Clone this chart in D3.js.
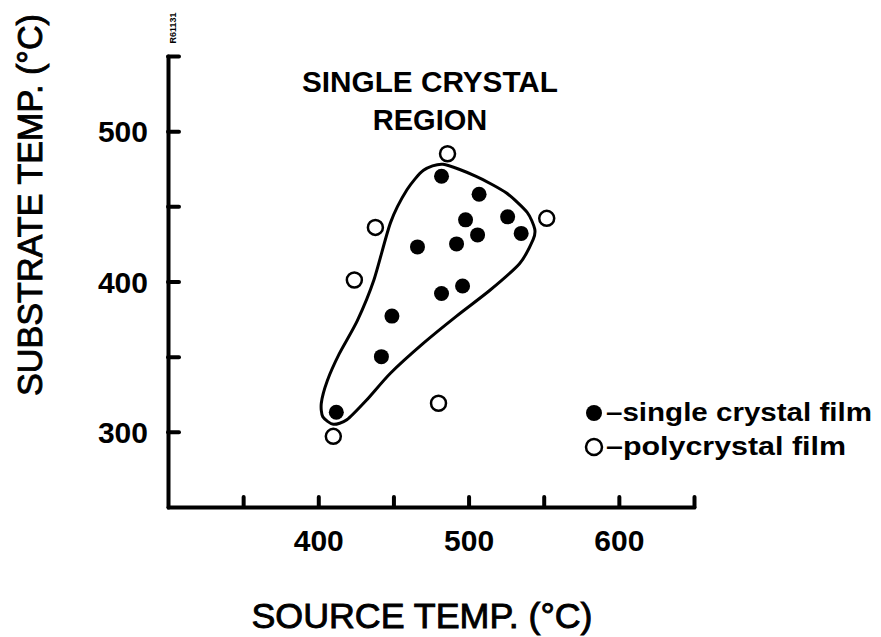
<!DOCTYPE html>
<html>
<head>
<meta charset="utf-8">
<script src="https://cdn.jsdelivr.net/npm/d3@7"></script>
<style>
  body { margin: 0; background: #fff; }
  svg text { font-family: "Liberation Sans", Arial, sans-serif; fill: #000; }
</style>
</head>
<body>
<svg id="chart" width="881" height="637"></svg>
<script>
// source temp, substrate temp (°C)
const single_x = [482, 507, 498, 526, 506, 535, 466, 492, 496, 482, 449, 442, 412];
const single_y = [470, 458, 441, 443, 431, 432, 423, 425, 397, 392, 377, 350, 313];

const poly_x = [486, 438, 552, 424, 480, 410];
const poly_y = [485, 436, 442, 401, 319, 297];

// outline of the single crystal region
const region_x = [483, 505, 525, 539, 544, 543, 534, 514, 492, 470, 448, 432, 419, 410, 403, 402, 406, 414, 426, 437, 448, 459, 470];
const region_y = [478, 470, 459, 446, 435, 428, 412, 394, 377, 359, 339, 321, 308, 305, 310, 319, 334, 352, 374, 401, 439, 461, 474];

const x_ticks = [350, 400, 450, 500, 550, 600, 650];
const y_ticks = [300, 350, 400, 450, 500, 550];
const tick_labels = [300, 400, 500, 600];

const legend_labels = ["\u2013single crystal film", "\u2013polycrystal film"];

const $svg = d3.select("#chart");

const x = d3.scaleLinear().domain([300, 650]).range([168, 694]);
const y = d3.scaleLinear().domain([250, 550]).range([507, 56]);

const fmt = d => tick_labels.includes(d) ? d : "";

// axes
const gx = $svg.append("g")
    .attr("transform", "translate(0," + y(250) + ")")
    .call(d3.axisBottom(x).tickValues(x_ticks).tickSizeInner(-10).tickSizeOuter(0).tickPadding(23).tickFormat(fmt));

const gy = $svg.append("g")
    .attr("transform", "translate(" + x(300) + ",0)")
    .call(d3.axisLeft(y).tickValues(y_ticks).tickSizeInner(-11).tickSizeOuter(0).tickPadding(20).tickFormat(fmt));

[gx, gy].forEach(g => {
    g.select(".domain").attr("stroke", "#000").attr("stroke-width", 4).attr("stroke-linecap", "round");
    g.selectAll(".tick line").attr("stroke", "#000").attr("stroke-width", 4).attr("stroke-linecap", "round");
    g.selectAll(".tick text")
        .attr("font-size", 30)
        .attr("font-weight", "bold")
        .attr("font-family", "Liberation Sans, Arial, sans-serif");
});
gy.selectAll(".tick text").attr("dy", "0.36em");

// region outline
const region = region_x.map((v, i) => [v, region_y[i]]);
const line = d3.line()
    .x(d => x(d[0]))
    .y(d => y(d[1]))
    .curve(d3.curveCardinalClosed.tension(0.3));

$svg.append("path")
    .datum(region)
    .attr("d", line)
    .attr("fill", "none")
    .attr("stroke", "#000")
    .attr("stroke-width", 3);

// points
$svg.append("g").selectAll("circle")
    .data(single_x.map((v, i) => [v, single_y[i]]))
    .join("circle")
    .attr("cx", d => x(d[0]))
    .attr("cy", d => y(d[1]))
    .attr("r", 7.5)
    .attr("fill", "#000");

$svg.append("g").selectAll("circle")
    .data(poly_x.map((v, i) => [v, poly_y[i]]))
    .join("circle")
    .attr("cx", d => x(d[0]))
    .attr("cy", d => y(d[1]))
    .attr("r", 7.5)
    .attr("fill", "#fff")
    .attr("stroke", "#000")
    .attr("stroke-width", 2.5);

// titles
$svg.append("text")
    .attr("x", 430).attr("y", 92)
    .attr("text-anchor", "middle")
    .attr("font-size", 29).attr("font-weight", "bold")
    .attr("textLength", 256).attr("lengthAdjust", "spacingAndGlyphs")
    .text("SINGLE CRYSTAL");

$svg.append("text")
    .attr("x", 430).attr("y", 130)
    .attr("text-anchor", "middle")
    .attr("font-size", 29).attr("font-weight", "bold")
    .text("REGION");

$svg.append("text")
    .attr("x", 422).attr("y", 628)
    .attr("text-anchor", "middle")
    .attr("font-size", 35)
    .attr("stroke", "#000").attr("stroke-width", 0.9)
    .attr("textLength", 341).attr("lengthAdjust", "spacingAndGlyphs")
    .text("SOURCE  TEMP. (°C)");

$svg.append("text")
    .attr("transform", "translate(42,205) rotate(-90)")
    .attr("text-anchor", "middle")
    .attr("font-size", 35)
    .attr("stroke", "#000").attr("stroke-width", 0.9)
    .attr("textLength", 382).attr("lengthAdjust", "spacingAndGlyphs")
    .text("SUBSTRATE  TEMP. (°C)");

$svg.append("text")
    .attr("transform", "translate(176,28) rotate(-90)")
    .attr("text-anchor", "middle")
    .attr("font-size", 9).attr("font-weight", "bold")
    .text("R61131");

// legend
const leg = $svg.append("g");
leg.selectAll("circle")
    .data(legend_labels)
    .join("circle")
    .attr("cx", 594)
    .attr("cy", (d, i) => 413 + i * 34)
    .attr("r", 8)
    .attr("fill", (d, i) => i === 0 ? "#000" : "#fff")
    .attr("stroke", "#000")
    .attr("stroke-width", (d, i) => i === 0 ? 0 : 2.5);

leg.selectAll("text")
    .data(legend_labels)
    .join("text")
    .attr("x", 606)
    .attr("y", (d, i) => 421 + i * 34)
    .attr("font-size", 25).attr("font-weight", "bold")
    .attr("textLength", (d, i) => i === 0 ? 266 : 240)
    .attr("lengthAdjust", "spacingAndGlyphs")
    .text(d => d);
</script>
</body>
</html>
